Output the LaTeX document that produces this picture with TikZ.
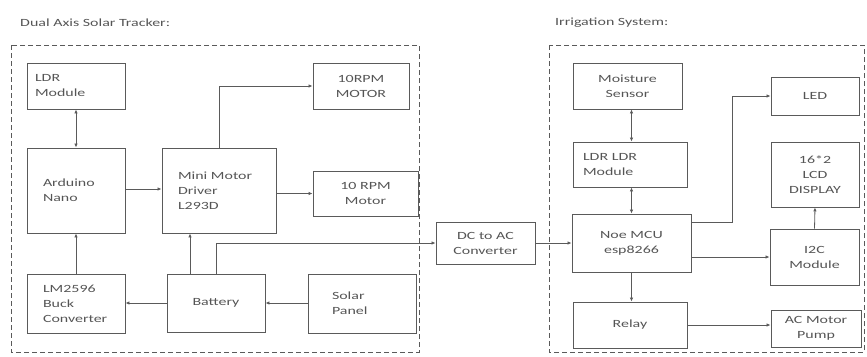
\documentclass[tikz,border=0pt]{standalone}
\usepackage{fontspec}
\setmainfont{Carlito}[FakeStretch=1.45]
\usetikzlibrary{arrows.meta}
\definecolor{ln}{HTML}{5A5A5A}
\definecolor{tx}{HTML}{555555}
\begin{document}
\begin{tikzpicture}[x=1pt,y=-1pt,
  font=\fontsize{11}{15}\selectfont,
  box/.style={draw=ln, line width=0.9pt, text=tx, rectangle, align=center, inner sep=0pt},
  lbox/.style={box, align=left, text width=#1},
  frame/.style={draw=ln, line width=0.8pt, dash pattern=on 5pt off 3pt},
  arr/.style={draw=ln, line width=0.8pt, -{Latex[length=4pt,width=3.5pt]}},
  arrb/.style={draw=ln, line width=0.8pt, {Latex[length=4pt,width=3.5pt]}-{Latex[length=4pt,width=3.5pt]}},
  ttl/.style={text=tx, anchor=west, inner sep=0pt}
]
\useasboundingbox (0,0) rectangle (867,356);

% titles
\node[ttl] (t1) at (20,23) {Dual Axis Solar Tracker:};
\node[ttl] (t2) at (555,23) {Irrigation System:};

% frames
\draw[frame] (11,45) rectangle (419,352);
\draw[frame] (549,45) rectangle (864,352);

% left boxes
\node[lbox=82, minimum width=98, minimum height=46] (ldr) at (76,86) {LDR\\Module};
\node[box, minimum width=96, minimum height=46] (mot1) at (361,86) {10RPM\\MOTOR};
\node[lbox=66, minimum width=98, minimum height=85] (ard) at (76,190.5) {Arduino\\Nano};
\node[lbox=82, minimum width=114, minimum height=85] (drv) at (219,190.5) {\mbox{Mini Motor}\\Driver\\L293D};
\node[box, minimum width=105, minimum height=45] (mot2) at (365.5,193.5) {10 RPM\\Motor};
\node[lbox=66, minimum width=98, minimum height=59] (lm) at (76,303.5) {LM2596\\Buck\\\mbox{Converter}};
\node[box, minimum width=98, minimum height=58] (bat) at (216,303) {Battery};
\node[lbox=60, minimum width=108, minimum height=59] (sol) at (362,303.5) {Solar\\Panel};
\node[box, minimum width=99, minimum height=42] (dc) at (485.5,243) {DC to AC\\Converter};

% right boxes
\node[box, minimum width=109, minimum height=46] (moist) at (627.5,86) {Moisture\\Sensor};
\node[lbox=94, minimum width=114, minimum height=45] (ldr2) at (630,164.5) {\mbox{LDR LDR}\\Module};
\node[box, minimum width=119, minimum height=58] (mcu) at (631.5,243) {Noe MCU\\esp8266};
\node[box, minimum width=88, minimum height=38] (led) at (815,96) {LED};
\node[box, minimum width=88, minimum height=65] (lcd) at (815,174.5) {16*2\\LCD\\DISPLAY};
\node[box, minimum width=89, minimum height=56] (i2c) at (814.5,257) {I2C\\Module};
\node[box, minimum width=114, minimum height=46] (relay) at (630,325) {Relay};
\node[box, minimum width=90, minimum height=37] (pump) at (816,328.5) {AC Motor\\Pump};

\coordinate (ledbend) at (732,96);

% left connectors
\draw[arrb] (ldr.south) -- (ard.north);
\draw[arr] (ard.east |- 0,189) -- (drv.west |- 0,189);
\draw[arr] (drv.north) |- (mot1.west);
\draw[arr] (drv.east |- mot2) -- (mot2.west);
\draw[arr] (lm.north) -- (ard.south);
\draw[arr] ([xshift=-26pt]bat.north) -- ([xshift=-26pt]bat.north |- drv.south);
\draw[arr] (bat.north) |- (dc.west);
\draw[arr] (bat.west) -- (lm.east |- bat.west);
\draw[arr] (sol.west |- bat) -- (bat.east);

% middle / right connectors
\draw[arr] (dc.east) -- (mcu.west |- dc.east);
\draw[arrb] (moist.south -| mcu) -- (ldr2.north -| mcu);
\draw[arrb] (ldr2.south -| mcu) -- (mcu.north);
\draw[arr] ([yshift=21pt]mcu.east) -| (ledbend) -- (led.west);
\draw[arr] (mcu.east |- i2c) -- (i2c.west);
\draw[arr] (i2c.north) -- (lcd.south);
\draw[arr] (mcu.south) -- (relay.north -| mcu);
\draw[arr] (relay.east) -- (pump.west |- relay.east);
\end{tikzpicture}
\end{document}
